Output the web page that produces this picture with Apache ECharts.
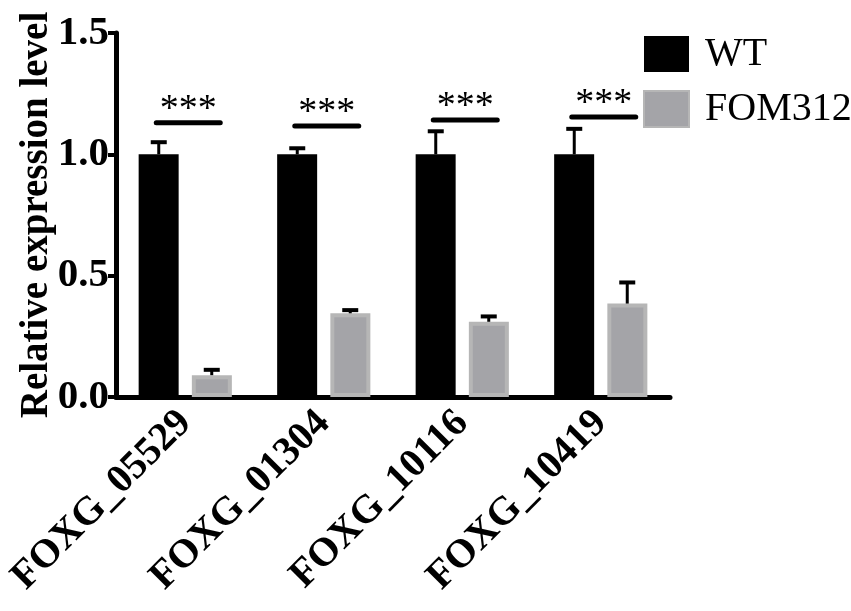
<!DOCTYPE html>
<html>
<head>
<meta charset="utf-8">
<script src="https://cdn.jsdelivr.net/npm/echarts@6/dist/echarts.min.js"></script>
<style>html,body{margin:0;padding:0;background:#fff;}#c{width:851px;height:611px;}</style>
</head>
<body>
<div id="c"></div>
<script>
const categories = ['FOXG_05529', 'FOXG_01304', 'FOXG_10116', 'FOXG_10419'];
const wtMean = [1.0, 1.0, 1.0, 1.0];
const wtUpper = [1.05, 1.025, 1.095, 1.105];
const fomMean = [0.09, 0.345, 0.31, 0.385];
const fomUpper = [0.112, 0.358, 0.332, 0.472];
const sigLevel = [1.13, 1.117, 1.141, 1.154];
const sigText = ['***', '***', '***', '***'];
const yTicks = [0, 0.5, 1.0, 1.5];

const FONT = "'Liberation Serif','Times New Roman',serif";
const BAR_W = 40;
const HALF_OFF = 26.5;

function errSeries(name, means, uppers, sign) {
  return {
    type: 'custom',
    name: name + ' err',
    z: 5,
    data: means.map((m, i) => [i, m, uppers[i]]),
    encode: { x: 0, y: [1, 2] },
    renderItem: function (params, api) {
      const i = api.value(0);
      const p0 = api.coord([i, api.value(1)]);
      const p1 = api.coord([i, api.value(2)]);
      const x = p0[0] + sign * HALF_OFF;
      return {
        type: 'group',
        children: [
          { type: 'line', shape: { x1: x, y1: p0[1], x2: x, y2: p1[1] }, style: { stroke: '#000', lineWidth: 3 } },
          { type: 'line', shape: { x1: x - 8, y1: p1[1], x2: x + 8, y2: p1[1] }, style: { stroke: '#000', lineWidth: 4 } }
        ]
      };
    }
  };
}

const chart = echarts.init(document.getElementById('c'), null, { renderer: 'canvas' });
chart.setOption({
  animation: false,
  backgroundColor: '#fff',
  grid: { left: 116, right: 181, top: 33, bottom: 214, containLabel: false, outerBoundsMode: 'none' },
  legend: {
    data: [{ name: 'WT', icon: 'rect' }, { name: 'FOM312', icon: 'rect' }],
    orient: 'vertical',
    left: 638,
    top: 29,
    itemWidth: 45,
    itemHeight: 36,
    itemGap: 15,
    selectedMode: false,
    textStyle: { fontFamily: FONT, fontSize: 40, color: '#000', padding: [0, 0, 0, 11] }
  },
  xAxis: {
    type: 'category',
    data: categories,
    axisLine: { lineStyle: { color: '#000', width: 5 } },
    axisTick: { alignWithLabel: true, length: 10, lineStyle: { color: '#000', width: 4 } },
    axisLabel: { rotate: 45, fontFamily: FONT, fontWeight: 'bold', fontSize: 40, color: '#000', margin: 20 },
    splitLine: { show: false }
  },
  yAxis: {
    type: 'value',
    min: yTicks[0],
    max: yTicks[yTicks.length - 1],
    interval: 0.5,
    name: 'Relative expression level',
    nameLocation: 'middle',
    nameGap: 60,
    nameMoveOverlap: false,
    nameTextStyle: { fontFamily: FONT, fontWeight: 'bold', fontSize: 39, color: '#000' },
    axisLine: { show: true, lineStyle: { color: '#000', width: 5 } },
    axisTick: { show: true, length: 8, lineStyle: { color: '#000', width: 4 } },
    axisLabel: { fontFamily: FONT, fontWeight: 'bold', fontSize: 41, color: '#000', margin: 7, formatter: v => v.toFixed(1) },
    splitLine: { show: false }
  },
  series: [
    { name: 'WT', type: 'bar', data: wtMean, barWidth: BAR_W, barGap: '33%', itemStyle: { color: '#000' } },
    { name: 'FOM312', type: 'bar', data: fomMean, barWidth: BAR_W, itemStyle: { color: '#a4a4a8', borderColor: '#b6b6b6', borderWidth: 4 } },
    errSeries('WT', wtMean, wtUpper, -1),
    errSeries('FOM312', fomMean, fomUpper, 1),
    {
      type: 'custom',
      name: 'sig',
      z: 6,
      data: sigLevel.map((v, i) => [i, v, sigText[i]]),
      encode: { x: 0, y: 1 },
      renderItem: function (params, api) {
        const i = api.value(0);
        const p = api.coord([i, api.value(1)]);
        const x = p[0] + 3;
        return {
          type: 'group',
          children: [
            { type: 'line', shape: { x1: x - 32, y1: p[1], x2: x + 32, y2: p[1] }, style: { stroke: '#000', lineWidth: 5, lineCap: 'round' } },
            { type: 'text', x: x, y: p[1] - 13, style: { text: sigText[params.dataIndex], fontFamily: FONT, fontSize: 38, fill: '#000', align: 'center', verticalAlign: 'middle' } }
          ]
        };
      }
    }
  ]
});
</script>
</body>
</html>
